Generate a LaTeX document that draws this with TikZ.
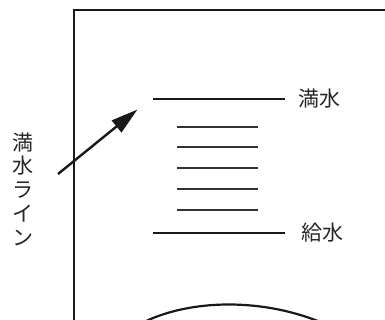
\documentclass[tikz,border=0pt]{standalone}
\usepackage{fontspec}
\newfontfamily\jp{Noto Sans CJK JP}
\usetikzlibrary{arrows.meta}
\begin{document}
\begin{tikzpicture}[x=1pt,y=-1pt,
  frame/.style={line width=2.3pt,draw=black!90},
  thickline/.style={line width=2.4pt,draw=black!90},
  thinline/.style={line width=1.3pt,draw=black!80},
  lbl/.style={font=\jp\fontsize{21}{21}\selectfont,text=black!85,inner sep=0pt},
  vlbl/.style={font=\jp\fontsize{21}{23.7}\selectfont,text=black!85,inner sep=0pt,align=center}]
\useasboundingbox (0,0) rectangle (385,320);
% frame
\draw[frame] (74,325) -- (74,10) -- (390,10);
% level lines
\draw[thickline] (153,99) -- (285,99);
\draw[thickline] (153,233) -- (285,233);
\foreach \y in {127,147,168,189,210}
  \draw[thinline] (177,\y) -- (258,\y);
% labels
\node[lbl,anchor=west] (full) at (298.5,99) {満水};
\node[lbl,anchor=west] (supply) at (301.5,233) {給水};
\node[vlbl] (vtext) at (23,189) {満\\水\\ラ\\イ\\ン};
% arrow
\coordinate (astart) at (58,174);
\coordinate (atip) at (137.5,109.5);
\draw[line width=2.4pt,draw=black!90,-{Triangle[length=27pt,width=15pt]}] (astart) -- (atip);
% bottom curve
\draw[line width=2.2pt,draw=black!90] (140,324) .. controls (190,298) and (265,298) .. (325,324);
\end{tikzpicture}
\end{document}
